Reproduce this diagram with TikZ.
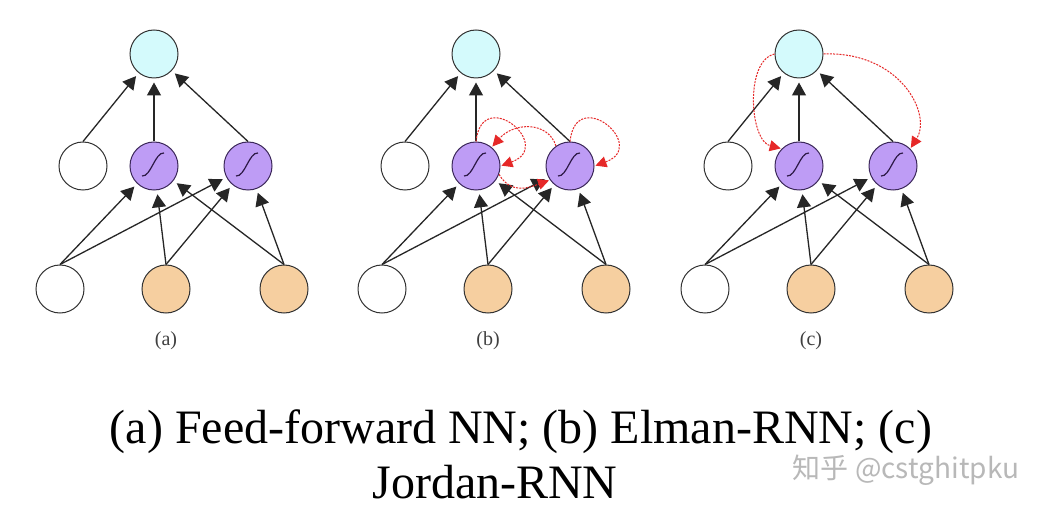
\documentclass[tikz,border=0pt]{standalone}
\usepackage{fontspec}
\setmainfont{Liberation Serif}
\newfontfamily\cjkfont{Noto Sans CJK SC}
\usetikzlibrary{arrows.meta}
\definecolor{cyanfill}{RGB}{212,250,252}
\definecolor{purplefill}{RGB}{190,156,245}
\definecolor{purpleedge}{RGB}{60,40,90}
\definecolor{orangefill}{RGB}{246,207,160}
\definecolor{recred}{RGB}{230,40,40}
\definecolor{sigcol}{RGB}{45,25,70}
\tikzset{
  bigtip/.tip={Triangle[length=13pt,width=14pt]},
  redtip/.tip={Triangle[length=11pt,width=11pt]},
}
\begin{document}
\begin{tikzpicture}[x=1pt,y=-1pt,
  neuron/.style={circle,draw=black!80,line width=1pt,minimum size=48pt,inner sep=0pt},
  outn/.style={neuron,fill=cyanfill},
  hidn/.style={neuron,fill=purplefill,draw=purpleedge},
  inn/.style={neuron,fill=orangefill},
  ctx/.style={neuron,fill=white},
  conn/.style={draw=black!85,line width=1.3pt,arrows={-bigtip},shorten >=4pt},
  rec/.style={draw=recred,line width=1pt,dash pattern=on 2pt off 1.2pt,arrows={-redtip},shorten >=1pt},
  sig/.style={line width=1.2pt,draw=sigcol},
  panellab/.style={font=\fontsize{20}{22}\selectfont,text=black!75},
  ]
\fill[white] (0,0) rectangle (1064,518);
\useasboundingbox (0,0) rectangle (1064,518);

\foreach \p/\x/\l in {a/154/(a), b/476/(b), c/799/(c)} {
  \node[outn] (\p-top) at (\x,54) {};
  \node[ctx]  (\p-cw)  at (\x-71,166) {};
  \node[hidn] (\p-h1)  at (\x,166) {};
  \node[hidn] (\p-h2)  at (\x+94,166) {};
  \node[ctx]  (\p-iw)  at (\x-94,289) {};
  \node[inn]  (\p-i1)  at (\x+12,289) {};
  \node[inn]  (\p-i2)  at (\x+130,289) {};
  \node[panellab] (\p-lab) at (\x+12,341) {\l};
  \foreach \h in {h1,h2} {
    \draw[sig] ([shift={(-12,10)}]\p-\h.center) .. controls +(9,1) and +(-9,-1) .. ([shift={(10,-13)}]\p-\h.center);
  }
  \draw[conn] (\p-cw.north) -- (\p-top);
  \draw[conn] (\p-h1.north) -- (\p-top);
  \draw[conn] (\p-h2.north) -- (\p-top);
  \foreach \s in {iw,i1,i2} {
    \draw[conn] (\p-\s.north) -- (\p-h1);
    \draw[conn] (\p-\s.north) -- (\p-h2);
  }
}

% Elman recurrences
\draw[rec] (b-h1.north) .. controls +(6,-57) and +(55,-20) .. (b-h1.east);
\draw[rec] (b-h2.north) .. controls +(6,-57) and +(55,-20) .. (b-h2.east);
\draw[rec] (b-h2.125) .. controls +(-8,-25) and +(22,-25) .. (b-h1.50);
\draw[rec] (b-h1.-20) .. controls +(12,20) and +(-22,8) .. (b-h2.215);

% Jordan recurrences
\draw[rec] (c-top.west) .. controls +(-30,7) and +(-32,-8) .. (c-h1.north west);
\draw[rec] (c-top.east) .. controls +(76,-3) and +(22,-35) .. (c-h2.north east);

\node[font=\fontsize{48}{56}\selectfont,anchor=base] (cap1) at (521,443) {(a) Feed-forward NN; (b) Elman-RNN; (c)};
\node[font=\fontsize{48}{56}\selectfont,anchor=base] (cap2) at (495,498) {Jordan-RNN};
\node[font=\cjkfont\fontsize{28}{30}\selectfont,text=black!28] (wm) at (906,470) {知乎 @cstghitpku};
\end{tikzpicture}
\end{document}
